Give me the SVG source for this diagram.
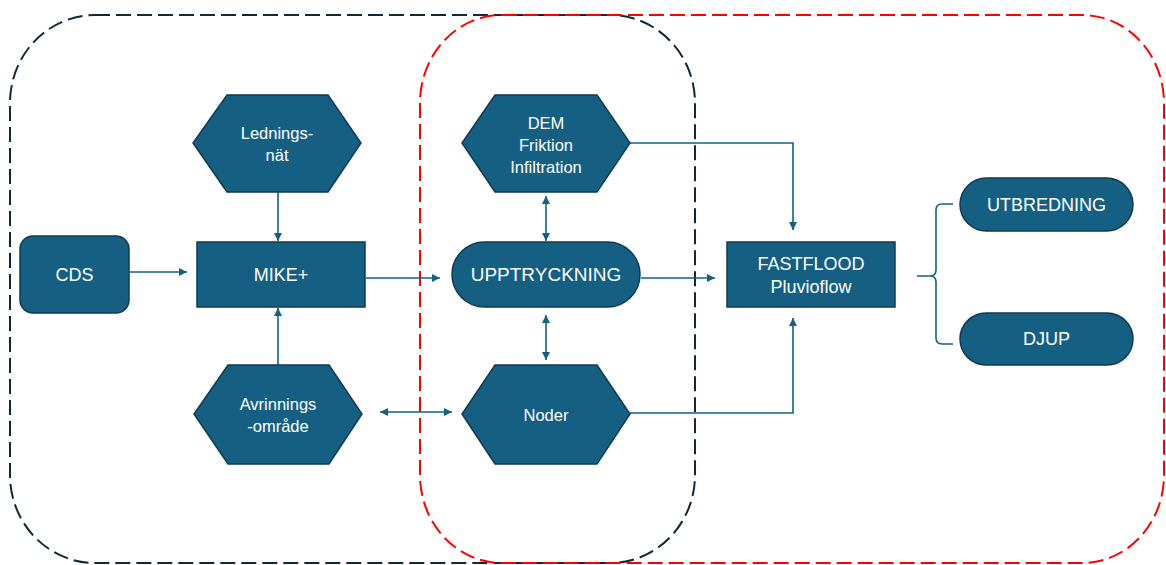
<svg xmlns="http://www.w3.org/2000/svg" width="1166" height="565" viewBox="0 0 1166 565">
<defs>
<style>
.node{fill:#156082;stroke:#0f3a52;stroke-width:1.5}
.t{fill:#ffffff;font-family:"Liberation Sans",Arial,sans-serif;text-anchor:middle}
.big{font-size:18px}
.sm{font-size:16.5px}
.c{fill:none;stroke:#156082;stroke-width:1.6}
</style>
<marker id="ah" viewBox="0 0 10 10" refX="10" refY="5" markerWidth="9" markerHeight="8" markerUnits="userSpaceOnUse" orient="auto-start-reverse">
<path d="M0,0 L10,5 L0,10 z" fill="#156082"/>
</marker>
</defs>
<rect width="1166" height="565" fill="#ffffff"/>
<g id="frames">
<rect x="10" y="15" width="685" height="548" rx="85" ry="88" fill="none" stroke="#10293a" stroke-width="2" stroke-dasharray="15 6"/>
<rect x="420" y="15" width="744" height="548" rx="82" ry="88" fill="none" stroke="#ff0000" stroke-width="2" stroke-dasharray="15 6"/>
</g>
<g id="connectors">
<line class="c" x1="130" y1="272" x2="187" y2="272" marker-end="url(#ah)"/>
<line class="c" x1="278" y1="192" x2="278" y2="241" marker-end="url(#ah)"/>
<line class="c" x1="278" y1="365" x2="278" y2="308" marker-end="url(#ah)"/>
<line class="c" x1="366" y1="278" x2="440" y2="278" marker-end="url(#ah)"/>
<line class="c" x1="380" y1="412" x2="452" y2="412" marker-start="url(#ah)" marker-end="url(#ah)"/>
<line class="c" x1="546" y1="196" x2="546" y2="241" marker-start="url(#ah)" marker-end="url(#ah)"/>
<line class="c" x1="546" y1="315" x2="546" y2="360" marker-start="url(#ah)" marker-end="url(#ah)"/>
<line class="c" x1="641" y1="278" x2="715" y2="278" marker-end="url(#ah)"/>
<polyline class="c" points="630,143 793,143 793,230" marker-end="url(#ah)"/>
<polyline class="c" points="630,413 793,413 793,318" marker-end="url(#ah)"/>
<path class="c" d="M953,204 L942,204 Q936,204 936,210 L936,270 Q936,276 930,276 L917,276 M930,276 Q936,276 936,282 L936,338 Q936,344 942,344 L953,344"/>
</g>
<g id="cds">
<rect class="node" x="20" y="236" width="109" height="77" rx="13"/>
<text class="t big" x="74.5" y="281">CDS</text>
</g>
<g id="mike">
<rect class="node" x="197" y="242" width="168" height="65"/>
<text class="t big" x="281" y="281">MIKE+</text>
</g>
<g id="ledningsnat">
<polygon class="node" points="227,95 328,95 361,143 328,192 227,192 193,143"/>
<text class="t sm" x="277" y="139">Lednings-</text>
<text class="t sm" x="277" y="161">nät</text>
</g>
<g id="avrinning">
<polygon class="node" points="228,365 329,365 362,414 329,464 228,464 194,414"/>
<text class="t sm" x="278" y="410">Avrinnings</text>
<text class="t sm" x="278" y="432">-område</text>
</g>
<g id="dem">
<polygon class="node" points="495,95 597,95 630,143 597,192 495,192 462,143"/>
<text class="t sm" x="546" y="129">DEM</text>
<text class="t sm" x="546" y="151">Friktion</text>
<text class="t sm" x="546" y="173">Infiltration</text>
</g>
<g id="upptryckning">
<rect class="node" x="452" y="242" width="188" height="65" rx="32.5"/>
<text class="t" x="546" y="281" font-size="19">UPPTRYCKNING</text>
</g>
<g id="noder">
<polygon class="node" points="495,365 597,365 630,414 597,464 495,464 462,414"/>
<text class="t sm" x="546" y="421">Noder</text>
</g>
<g id="fastflood">
<rect class="node" x="727" y="242" width="168" height="65"/>
<text class="t big" x="811" y="270">FASTFLOOD</text>
<text class="t big" x="811" y="293">Pluvioflow</text>
</g>
<g id="utbredning">
<rect class="node" x="960" y="178" width="173" height="53" rx="26.5"/>
<text class="t big" x="1046.5" y="211">UTBREDNING</text>
</g>
<g id="djup">
<rect class="node" x="960" y="313" width="173" height="52" rx="26"/>
<text class="t big" x="1046.5" y="345">DJUP</text>
</g>
</svg>
